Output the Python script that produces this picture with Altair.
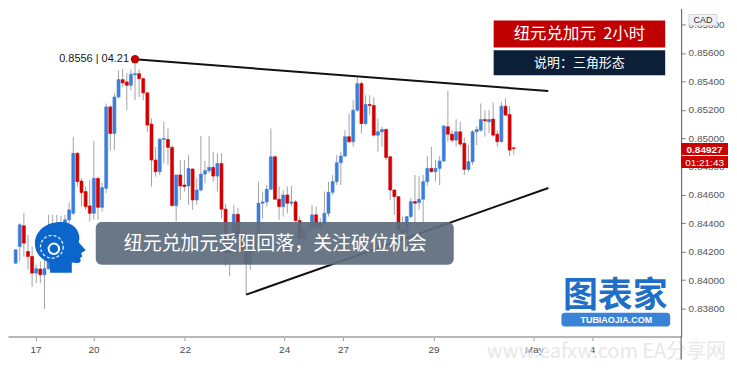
import altair as alt
import pandas as pd

# ---- NZD/CAD 2H candles ----
open_ = [0.84120, 0.84237, 0.84383, 0.84202, 0.84167, 0.84050, 0.84078, 0.84038, 0.84081, 0.84155,
         0.84308, 0.84272, 0.84378, 0.84425, 0.84471, 0.84893, 0.84698, 0.84624, 0.84523, 0.84471,
         0.84717, 0.84513, 0.84647, 0.85220, 0.85033, 0.85290, 0.85412, 0.85396, 0.85372, 0.85447,
         0.85454, 0.85419, 0.85319, 0.85099, 0.84846, 0.84764, 0.84991, 0.84991, 0.84935, 0.84525,
         0.84741, 0.84670, 0.84663, 0.84783, 0.84565, 0.84635, 0.84747, 0.84771, 0.84794, 0.84733,
         0.84822, 0.84500, 0.84191, 0.84308, 0.84464, 0.84308, 0.84237, 0.84120, 0.84214, 0.84261,
         0.84542, 0.84551, 0.84640, 0.84869, 0.84570, 0.84518, 0.84600, 0.84542, 0.84551, 0.84420,
         0.84296, 0.84354, 0.84366, 0.84460, 0.84366, 0.84401, 0.84471, 0.84619, 0.84694, 0.84827,
         0.84874, 0.85010, 0.84975, 0.85197, 0.85384, 0.85103, 0.85237, 0.85230, 0.85021, 0.85045,
         0.85061, 0.84869, 0.84635, 0.84588, 0.84354, 0.84331, 0.84448, 0.84553, 0.84546, 0.84570,
         0.84694, 0.84787, 0.84764, 0.84787, 0.84839, 0.85080, 0.85028, 0.84986, 0.85045, 0.84963,
         0.84780, 0.84834, 0.85045, 0.85056, 0.85131, 0.85115, 0.85134, 0.85028, 0.84975, 0.85225,
         0.85166, 0.84932]
high = [0.84219, 0.84401, 0.84471, 0.84319, 0.84237, 0.84109, 0.84132, 0.84179, 0.84460, 0.84460,
        0.84460, 0.84453, 0.84460, 0.84546, 0.85010, 0.84904, 0.84717, 0.84659, 0.84705, 0.84982,
        0.84729, 0.84687, 0.85244, 0.85232, 0.85314, 0.85478, 0.85489, 0.85459, 0.85485, 0.85555,
        0.85482, 0.85426, 0.85326, 0.85138, 0.84939, 0.84998, 0.85115, 0.85068, 0.84951, 0.84741,
        0.84846, 0.84846, 0.84881, 0.84787, 0.84717, 0.85014, 0.84839, 0.85014, 0.84904, 0.84893,
        0.84893, 0.84537, 0.84354, 0.84530, 0.84507, 0.84354, 0.84308, 0.84272, 0.84308, 0.84694,
        0.84624, 0.84670, 0.85068, 0.84881, 0.84659, 0.84635, 0.84659, 0.84663, 0.84565, 0.84448,
        0.84378, 0.84401, 0.84530, 0.84518, 0.84436, 0.84624, 0.84694, 0.84741, 0.84881, 0.84904,
        0.85056, 0.85173, 0.85267, 0.85436, 0.85396, 0.85302, 0.85302, 0.85290, 0.85138, 0.85080,
        0.85068, 0.84874, 0.84640, 0.84593, 0.84448, 0.84448, 0.84577, 0.84741, 0.84733, 0.84741,
        0.84874, 0.84939, 0.84846, 0.84874, 0.85092, 0.85333, 0.85056, 0.85134, 0.85115, 0.85005,
        0.84951, 0.85056, 0.85085, 0.85244, 0.85197, 0.85197, 0.85251, 0.85056, 0.85255, 0.85279,
        0.85225, 0.84939]
low = [0.84116, 0.84132, 0.84167, 0.84074, 0.83952, 0.83980, 0.83980, 0.83797, 0.84074, 0.84144,
       0.84237, 0.84249, 0.84354, 0.84401, 0.84460, 0.84659, 0.84518, 0.84495, 0.84413, 0.84425,
       0.84425, 0.84483, 0.84612, 0.84916, 0.84916, 0.85279, 0.85361, 0.85197, 0.85337, 0.85267,
       0.85290, 0.85267, 0.85045, 0.84659, 0.84729, 0.84741, 0.84822, 0.84811, 0.84518, 0.84413,
       0.84565, 0.84624, 0.84530, 0.84495, 0.84530, 0.84624, 0.84682, 0.84752, 0.84694, 0.84624,
       0.84436, 0.84097, 0.84027, 0.84214, 0.84179, 0.84167, 0.83898, 0.84074, 0.84155, 0.84214,
       0.84436, 0.84518, 0.84635, 0.84565, 0.84425, 0.84448, 0.84471, 0.84518, 0.84401, 0.84261,
       0.84237, 0.84284, 0.84308, 0.84354, 0.84343, 0.84390, 0.84448, 0.84600, 0.84670, 0.84670,
       0.84869, 0.84963, 0.84939, 0.85185, 0.85033, 0.85092, 0.85162, 0.85010, 0.84904, 0.84939,
       0.84846, 0.84565, 0.84460, 0.84343, 0.84308, 0.84319, 0.84436, 0.84390, 0.84495, 0.84401,
       0.84663, 0.84757, 0.84694, 0.84670, 0.84834, 0.84975, 0.84968, 0.84939, 0.84939, 0.84741,
       0.84764, 0.84811, 0.84951, 0.85045, 0.85010, 0.85033, 0.85010, 0.84939, 0.84968, 0.85162,
       0.84874, 0.84881]
close = [0.84214, 0.84390, 0.84261, 0.84167, 0.84050, 0.84081, 0.84038, 0.84081, 0.84155, 0.84308,
         0.84272, 0.84378, 0.84425, 0.84495, 0.84893, 0.84694, 0.84617, 0.84518, 0.84471, 0.84717,
         0.84513, 0.84652, 0.85220, 0.85033, 0.85290, 0.85412, 0.85389, 0.85372, 0.85450, 0.85454,
         0.85419, 0.85319, 0.85092, 0.84846, 0.84764, 0.84993, 0.84998, 0.84935, 0.84525, 0.84741,
         0.84663, 0.84659, 0.84787, 0.84565, 0.84635, 0.84747, 0.84771, 0.84794, 0.84733, 0.84822,
         0.84500, 0.84191, 0.84308, 0.84464, 0.84308, 0.84214, 0.84120, 0.84214, 0.84261, 0.84542,
         0.84551, 0.84640, 0.84869, 0.84570, 0.84518, 0.84600, 0.84542, 0.84551, 0.84420, 0.84296,
         0.84354, 0.84366, 0.84460, 0.84378, 0.84401, 0.84471, 0.84619, 0.84694, 0.84827, 0.84874,
         0.85010, 0.84975, 0.85197, 0.85384, 0.85103, 0.85237, 0.85230, 0.85021, 0.85045, 0.85061,
         0.84864, 0.84635, 0.84588, 0.84354, 0.84331, 0.84448, 0.84553, 0.84542, 0.84570, 0.84694,
         0.84787, 0.84764, 0.84787, 0.84839, 0.85085, 0.85028, 0.84986, 0.85045, 0.84958, 0.84780,
         0.84834, 0.85045, 0.85061, 0.85131, 0.85122, 0.85131, 0.85021, 0.84975, 0.85225, 0.85162,
         0.84916, 0.84927]

# date labels at candle positions
tick_idx = [5.84, 19.93, 42.12, 66.23, 80.55, 102.5, 126.9, 141.0]
tick_lab = ["17", "20", "22", "24", "27", "29", "May", "4"]
price_ticks = [0.838, 0.840, 0.842, 0.844, 0.846, 0.848, 0.850, 0.852, 0.854, 0.856, 0.858]

# triangle lines
tri_name = ["upper", "upper", "lower", "lower"]
tri_idx = [30, 130.4, 57, 130.4]
tri_price = [0.85555, 0.85332, 0.83898, 0.84649]

hi_idx = [30]
hi_price = [0.85556]
hi_label = ["0.8556 | 04.21"]

last_price = "0.84927"
countdown = "01:21:43"

W, H = 675, 329
XD = [0.356, 161.45]
YD = [0.83603, 0.85913]

df = pd.DataFrame({"i": list(range(1, len(open_) + 1)), "open": open_, "high": high,
                   "low": low, "close": close})
df["up"] = df["close"] >= df["open"]

xs = alt.Scale(domain=XD, nice=False, zero=False)
ys = alt.Scale(domain=YD, nice=False, zero=False)

label_expr = " : ".join(f"abs(datum.value - {v}) < 0.01 ? '{l}'" for v, l in zip(tick_idx, tick_lab)) + " : ''"

x_axis = alt.Axis(values=tick_idx, labelExpr=label_expr, grid=False,
                  tickSize=4, tickColor="#9a9a9a", domainColor="#b8b8b8",
                  domainWidth=2, labelColor="#4a4a4a", labelFontSize=10,
                  labelPadding=4, title=None, labelFlush=False, labelOverlap=False)
y_axis = alt.Axis(orient="right", values=price_ticks, format=".5f",
                  grid=False, tickSize=4, tickColor="#777",
                  domainColor="#555", labelColor="#555",
                  labelFontSize=10, labelAlign="left", labelPadding=3,
                  title=None, labelFlush=False, labelOverlap=False, labelBound=False)

def X(f):
    return alt.X(f, scale=xs, axis=x_axis)

def Y(f):
    return alt.Y(f, scale=ys, axis=y_axis)

base = alt.Chart(df)
wicks = base.mark_rule(color="#a3a3a3", strokeWidth=1).encode(
    x=X("i:Q"), y=Y("low:Q"), y2="high:Q")
bodies = base.mark_bar(size=3, strokeWidth=0.6).encode(
    x=X("i:Q"), y=Y("open:Q"), y2="close:Q",
    color=alt.condition("datum.up", alt.value("#3b7ddd"), alt.value("#d20000")),
    stroke=alt.condition("datum.up", alt.value("#3b7ddd"), alt.value("#d20000")),
)

tri = alt.Chart(pd.DataFrame({"name": tri_name, "i": tri_idx, "p": tri_price})).mark_line(
    color="#111", strokeWidth=2).encode(x=X("i:Q"), y=Y("p:Q"), detail="name:N")

hi_df = pd.DataFrame({"i": hi_idx, "p": hi_price, "t": hi_label})
hi_dot = alt.Chart(hi_df).mark_point(filled=True, size=70, color="#c00000", opacity=1).encode(
    x=X("i:Q"), y=Y("p:Q"))
hi_txt = alt.Chart(hi_df).mark_text(align="right", dx=-6, fontSize=11, color="#131722",
                                    font="Liberation Sans").encode(
    x=X("i:Q"), y=Y("p:Q"), text="t:N")

one = pd.DataFrame({"a": [0]})
def box(x1, x2, y1, y2, color, **kw):
    return alt.Chart(one).mark_rect(color=color, **kw).encode(
        x=alt.value(x1), x2=alt.value(x2), y=alt.value(y1), y2=alt.value(y2))

def txt(x, y, s, size, color, font="Noto Sans CJK SC", **kw):
    return alt.Chart(one).mark_text(text=s, fontSize=size, color=color, font=font, **kw).encode(
        x=alt.value(x), y=alt.value(y))

HEAD = ("M -0.4 1 L -0.42 0.6 C -0.85 0.45 -1.0 0.15 -1.0 -0.15 C -1.0 -0.65 -0.55 -1.0 0.0 -1.0 "
        "C 0.5 -1.0 0.75 -0.7 0.75 -0.35 L 0.72 -0.2 L 1.0 0.12 L 0.82 0.22 L 0.86 0.36 L 0.78 0.42 "
        "L 0.8 0.55 C 0.75 0.65 0.6 0.62 0.45 0.6 L 0.45 1 Z")

logo = [
    alt.Chart(one).mark_point(shape=HEAD, filled=True, size=2600, color="#0b66cc", opacity=1).encode(
        x=alt.value(52.5), y=alt.value(239.5)),
    alt.Chart(one).mark_point(shape="circle", filled=False, size=110, color="white",
                              strokeWidth=2, opacity=1).encode(x=alt.value(46), y=alt.value(241)),
    alt.Chart(one).mark_point(shape="circle", filled=False, size=520, color="white",
                              strokeWidth=1.3, strokeDash=[3, 2], opacity=0.9).encode(
        x=alt.value(44), y=alt.value(239)),
]

layers = [
    wicks, bodies, tri, hi_dot, hi_txt,
    *logo,
    box(88, 447, 214, 257, "#5e6d7e", cornerRadius=6, opacity=0.93),
    txt(268, 236, "纽元兑加元受阻回落，关注破位机会", 19, "white", align="center", baseline="middle"),
    box(487, 659, 12, 39, "#c00000"),
    txt(573, 25.5, "纽元兑加元\u00a0\u00a02小时", 16.5, "white", align="center", baseline="middle"),
    box(487, 659, 42, 67, "#0b2038"),
    txt(573, 54.5, "说明：三角形态", 13, "white", align="center", baseline="middle"),
    # watermark
    txt(609, 288, "图表家", 35, "#1f6fc8", align="center", baseline="middle", fontWeight="bold"),
    box(555, 664, 305, 319, "#3a82d6", cornerRadius=3),
    txt(610, 312.5, "TUBIAOJIA.COM", 9, "white", font="Liberation Sans", align="center",
        baseline="middle", fontWeight="bold"),
    txt(600, 344, "www.eafxw.com   EA分享网", 20, "#e4e4e4", align="center", baseline="middle",
        opacity=0.85),
    # price axis extras
    box(683, 711, 6, 17, "#eef1f7", stroke="#d0d4dc", strokeWidth=1),
    txt(697, 12, "CAD", 9, "#333", font="Liberation Sans", align="center", baseline="middle"),
    box(675, 722, 135, 147, "#cc0000"),
    txt(698.5, 141.5, last_price, 10, "white", font="Liberation Sans", align="center",
        baseline="middle", fontWeight="bold"),
    box(675, 722, 148, 160, "#cc0000"),
    txt(698.5, 154.5, countdown, 10, "white", font="Liberation Sans", align="center",
        baseline="middle"),
    alt.Chart(one).mark_rule(color="#555", strokeWidth=1).encode(
        x=alt.value(675), y=alt.value(329), y2=alt.value(352)),
    alt.Chart(one).mark_rule(color="#b8b8b8", strokeWidth=1).encode(
        x=alt.value(-0.5), y=alt.value(0), y2=alt.value(352)),
]

chart = alt.layer(*layers).properties(
    width=W, height=H,
    autosize=alt.AutoSizeParams(type="none"),
    padding={"left": 0, "top": 0, "right": 48, "bottom": 23},
).configure_view(stroke=None).configure_axis(labelFont="Liberation Sans", labelOverlap=False)

chart.save("out.html", embed_options={"renderer": "svg", "actions": False})
